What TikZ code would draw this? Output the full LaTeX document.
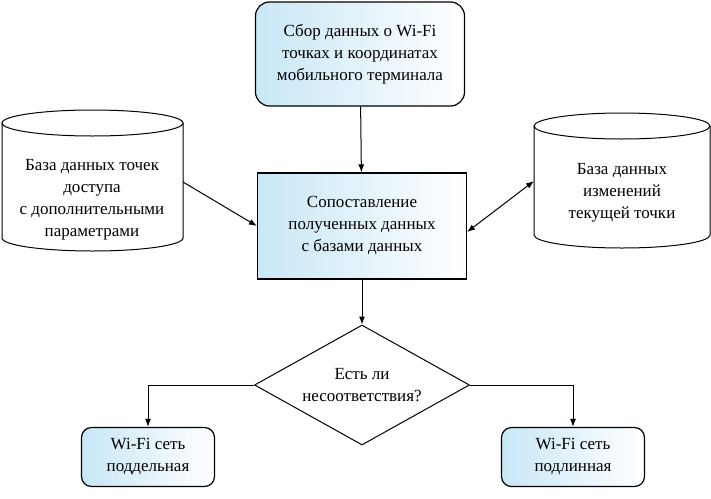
\documentclass[tikz,border=0pt]{standalone}
\usepackage{fontspec}
\setmainfont{Liberation Serif}
\usetikzlibrary{shapes.geometric,arrows.meta}

\definecolor{boxblue}{RGB}{200,231,246}

\tikzset{
  roundbox/.style={draw, line width=1.2pt, rounded corners=14pt, left color=boxblue, right color=white, align=center, font=\fontsize{17}{22}\selectfont},
  mainbox/.style={draw, line width=1.2pt, left color=boxblue, right color=white, align=center, font=\fontsize{17}{22}\selectfont},
  dbline/.style={line width=1pt},
  dbtext/.style={align=center, font=\fontsize{17}{22}\selectfont},
  check/.style={draw, line width=1pt, diamond, aspect=1.79, inner sep=0pt, align=center, font=\fontsize{17}{22}\selectfont},
  arr/.style={line width=1pt, -{Latex[length=8pt,width=6pt]}}
}

\begin{document}
\begin{tikzpicture}[x=1pt,y=-1pt]
\useasboundingbox (0,0) rectangle (711,498);

% databases
\draw[dbline] (2,123) -- (2,238) arc[start angle=180, end angle=0, x radius=90.5, y radius=13] -- (183,123);
\draw[dbline] (92.5,123) ellipse [x radius=90.5, y radius=13];
\draw[dbline] (534,126) -- (534,235) arc[start angle=180, end angle=0, x radius=88, y radius=13] -- (710,126);
\draw[dbline] (622,126) ellipse [x radius=88, y radius=13];
\coordinate (dbleft) at (183,182);
\coordinate (dbright) at (534,181);

\node[dbtext] (dbleft text) at (92,200) {База данных точек\\доступа\\с дополнительными\\параметрами};
\node[dbtext] (dbright text) at (622,193) {База данных\\изменений\\текущей точки};

\node[roundbox, minimum width=209pt, minimum height=104pt] (collect) at (360,54) {Сбор данных о Wi-Fi\\точках и координатах\\мобильного терминала};
\node[mainbox, minimum width=209pt, minimum height=106pt] (match) at (362,226) {Сопоставление\\полученных данных\\с базами данных};
\node[check, minimum width=215pt, minimum height=120pt] (diff) at (362,385) {Есть ли\\несоответствия?};
\node[roundbox, rounded corners=10pt, minimum width=133pt, minimum height=59pt] (fake) at (148,457) {Wi-Fi сеть\\поддельная};
\node[roundbox, rounded corners=10pt, minimum width=143pt, minimum height=59pt] (real) at (573,457) {Wi-Fi сеть\\подлинная};

\draw[arr] (collect) -- (match);
\draw[arr] (dbleft) -- (match.west);
\draw[arr, {Latex[length=8pt,width=6pt]}-{Latex[length=8pt,width=6pt]}] (match.east) ++(0,6) -- (dbright);
\draw[arr] (match) -- (diff);
\draw[arr] (diff.west) -| (fake.north);
\draw[arr] (diff.east) -| (real.north);
\end{tikzpicture}
\end{document}
